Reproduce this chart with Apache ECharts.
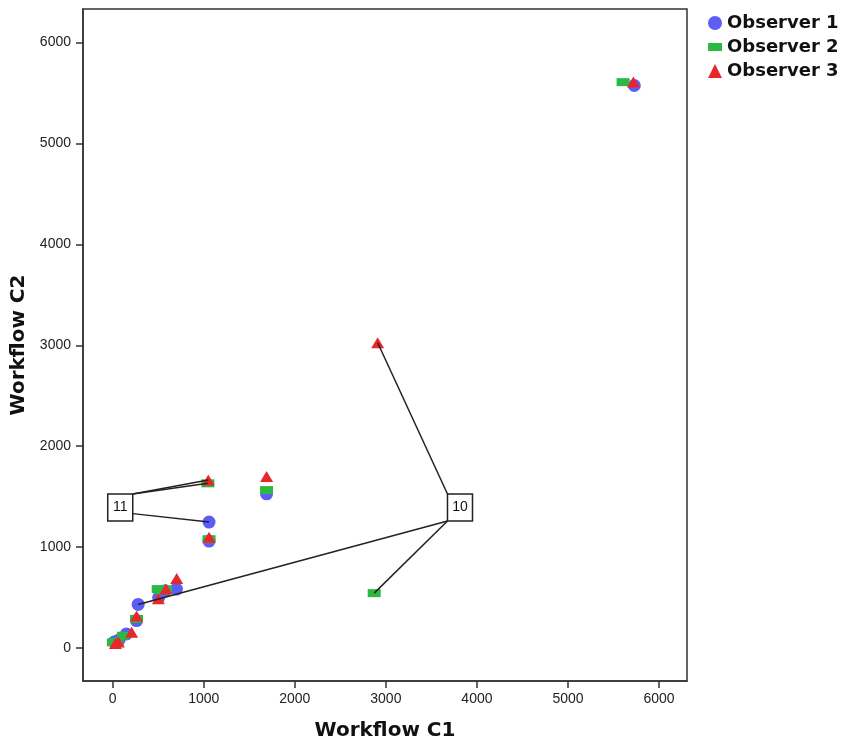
<!DOCTYPE html>
<html>
<head>
<meta charset="utf-8">
<title>workflow scatter</title>
<script src="https://cdn.jsdelivr.net/npm/echarts@6/dist/echarts.min.js"></script>
<style>
  html, body { margin: 0; padding: 0; background: #fff; }
  #main { width: 847px; height: 746px; }
</style>
</head>
<body>
<div id="main"></div>
<script>
// tick labels on both axes
var xTicks = [0, 1000, 2000, 3000, 4000, 5000, 6000];
var yTicks = [0, 1000, 2000, 3000, 4000, 5000, 6000];

// [Workflow C1, Workflow C2] per case, one array per observer
var observer1 = [
  [20, 62], [150, 140], [262, 272], [505, 500], [575, 568], [700, 584],
  [1058, 1060], [1690, 1528], [5728, 5575], [280, 432], [1058, 1248], [70, 80]
];
var observer2 = [
  [8, 56], [118, 122], [262, 288], [500, 584], [580, 582], [540, 570],
  [1058, 1078], [1690, 1565], [5605, 5608], [2872, 544], [1045, 1632], [45, 62]
];
var observer3 = [
  [62, 60], [208, 155], [262, 318], [502, 488], [585, 584], [703, 688],
  [1058, 1098], [1690, 1700], [5718, 5610], [2910, 3025], [1050, 1666], [30, 45]
];

// case labels with leader lines: box centre, then targets [x, y, cornerX, cornerY]
var caseLabels = [
  { text: '10', x: 3814, y: 1392,
    targets: [[2910, 3025, -1, -1], [2872, 544, -1, 1], [280, 432, -1, 1]] },
  { text: '11', x: 83, y: 1392,
    targets: [[1045, 1632, 1, -1], [1050, 1666, 1, -1], [1058, 1248, 1, 0.45]] }
];

var myChart = echarts.init(document.getElementById('main'));

var axisText = { fontFamily: 'Liberation Sans', fontSize: 14, color: '#222' };
function plain(v) { return String(v); }

option = {
  animation: false,
  grid: {
    left: 83, right: 160, top: 9, bottom: 64,
    show: true, borderColor: '#333', borderWidth: 1.5, backgroundColor: '#fff'
  },
  legend: {
    orient: 'vertical',
    left: 703, top: 9,
    itemWidth: 14, itemHeight: 14, itemGap: 6,
    textStyle: { fontFamily: 'DejaVu Sans', fontWeight: 'bold', fontSize: 18, color: '#111' },
    data: [
      { name: 'Observer 1', icon: 'circle' },
      { name: 'Observer 2', icon: 'path://M0,3h14v8h-14z' },
      { name: 'Observer 3', icon: 'triangle' }
    ]
  },
  xAxis: {
    type: 'value',
    min: -326, max: 6307,
    name: 'Workflow C1',
    nameLocation: 'middle',
    nameGap: 40,
    nameTextStyle: { fontFamily: 'DejaVu Sans', fontWeight: 'bold', fontSize: 20, color: '#111' },
    axisLine: { show: true, onZero: false, lineStyle: { color: '#333', width: 1.5 } },
    axisTick: { show: true, inside: false, length: 7, customValues: xTicks, lineStyle: { color: '#333', width: 1.5 } },
    axisLabel: Object.assign({ margin: 11, customValues: xTicks, formatter: plain }, axisText),
    splitLine: { show: false }
  },
  yAxis: {
    type: 'value',
    min: -327, max: 6333,
    name: 'Workflow C2',
    nameLocation: 'middle',
    nameGap: 46,
    nameTextStyle: { fontFamily: 'DejaVu Sans', fontWeight: 'bold', fontSize: 20, color: '#111' },
    axisLine: { show: true, onZero: false, lineStyle: { color: '#333', width: 1.5 } },
    axisTick: { show: true, inside: false, length: 7, customValues: yTicks, lineStyle: { color: '#333', width: 1.5 } },
    axisLabel: Object.assign({ margin: 12, customValues: yTicks, formatter: plain }, axisText),
    splitLine: { show: false }
  },
  series: [
    {
      name: 'Observer 1', type: 'scatter', symbol: 'circle', symbolSize: 13,
      itemStyle: { color: '#5b5df5', opacity: 1 },
      data: observer1
    },
    {
      name: 'Observer 2', type: 'scatter', symbol: 'rect', symbolSize: [13, 8],
      itemStyle: { color: '#2db843', opacity: 1 },
      data: observer2
    },
    {
      name: 'Observer 3', type: 'scatter', symbol: 'triangle', symbolSize: [13, 11],
      itemStyle: { color: '#e8262b', opacity: 1 },
      data: observer3
    },
    {
      name: 'labels', type: 'custom', z: 10, silent: true,
      data: caseLabels.map(function (c) { return [c.x, c.y]; }),
      renderItem: function (params, api) {
        var lab = caseLabels[params.dataIndex];
        var c = api.coord([lab.x, lab.y]);
        var w = 25, h = 27;
        var children = [];
        lab.targets.forEach(function (t) {
          var p = api.coord([t[0], t[1]]);
          children.push({
            type: 'line',
            shape: { x1: c[0] + t[2] * w / 2, y1: c[1] + t[3] * h / 2, x2: p[0], y2: p[1] },
            style: { stroke: '#222', lineWidth: 1.5 }
          });
        });
        children.push({
          type: 'rect',
          shape: { x: c[0] - w / 2, y: c[1] - h / 2, width: w, height: h },
          style: { fill: '#fff', stroke: '#222', lineWidth: 1.5 }
        });
        children.push({
          type: 'text',
          style: {
            x: c[0], y: c[1], text: lab.text, align: 'center', verticalAlign: 'middle',
            fontFamily: 'Liberation Sans', fontSize: 14, fill: '#111'
          }
        });
        return { type: 'group', children: children };
      }
    }
  ]
};
myChart.setOption(option);
</script>
</body>
</html>
